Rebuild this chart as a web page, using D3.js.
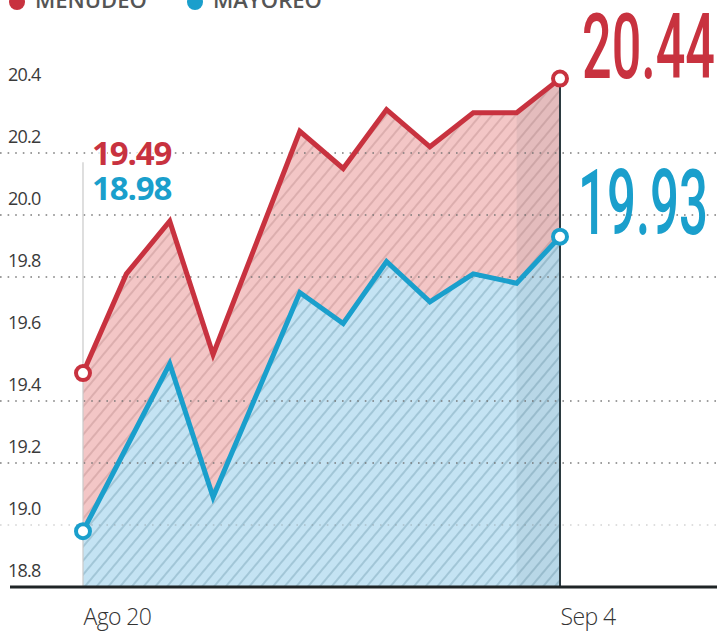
<!DOCTYPE html>
<html>
<head>
<meta charset="utf-8">
<script src="https://cdn.jsdelivr.net/npm/d3@7"></script>
<style>
  html, body { margin: 0; padding: 0; background: #fff; }
  svg { display: block; }
</style>
</head>
<body>
<svg id="chart" width="717" height="634"></svg>
<script>
// ---- data ----
const days = ["Ago 20","Ago 21","Ago 24","Ago 25","Ago 26","Ago 27","Ago 28","Ago 31","Sep 1","Sep 2","Sep 3","Sep 4"];
const menudeo = [19.49, 19.81, 19.98, 19.55, null, 20.27, 20.15, 20.34, 20.22, 20.33, 20.33, 20.44];
const mayoreo = [18.98, 19.25, 19.52, 19.09, null, 19.75, 19.65, 19.85, 19.72, 19.81, 19.78, 19.93];
const yTicks = [18.8, 19.0, 19.2, 19.4, 19.6, 19.8, 20.0, 20.2, 20.4];
const gridValues = [19.0, 19.2, 19.4, 19.8, 20.0, 20.2];
const xTickLabels = ["Ago 20", "Sep 4"];
const seriesNames = ["MENUDEO", "MAYOREO"];

const RED = "#c8323f", BLUE = "#1a9fcc";
const W = 717, H = 634;
const svg = d3.select("#chart");

const x = d3.scalePoint().domain(days).range([83, 560]);
const y = d3.scaleLinear().domain([18.8, 20.4]).range([587, 91]);

const redData = days.map((d, i) => ({d, v: menudeo[i]})).filter(p => p.v != null);
const blueData = days.map((d, i) => ({d, v: mayoreo[i]})).filter(p => p.v != null);

// ---- defs: hatch patterns ----
const defs = svg.append("defs");
function hatch(id, bg, lineColor) {
  const p = defs.append("pattern").attr("id", id)
    .attr("patternUnits", "userSpaceOnUse")
    .attr("width", 9).attr("height", 9)
    .attr("patternTransform", "rotate(40)");
  p.append("rect").attr("width", 9).attr("height", 9).attr("fill", bg);
  p.append("line").attr("x1", 1).attr("x2", 1).attr("y1", 0).attr("y2", 9)
    .attr("stroke", lineColor).attr("stroke-width", 1.1);
}
hatch("hRed", "#f3c6c6", "#c99a9a");
hatch("hBlue", "#c4e3f3", "#86aec0");

const area = d3.area().x(p => x(p.d)).y0(y(18.8)).y1(p => y(p.v));
const line = d3.line().x(p => x(p.d)).y(p => y(p.v));

defs.append("clipPath").attr("id", "redClip").append("path").attr("d", area(redData));

// ---- areas ----
svg.append("path").attr("d", area(redData)).attr("fill", "url(#hRed)");
svg.append("path").attr("d", area(blueData)).attr("fill", "url(#hBlue)");
// darker band on the last segment
svg.append("rect")
  .attr("x", x(days[10])).attr("y", 0)
  .attr("width", x(days[11]) - x(days[10])).attr("height", y(18.8))
  .attr("fill", "#2d4a5e").attr("opacity", 0.08)
  .attr("clip-path", "url(#redClip)");

// ---- gridlines ----
svg.append("g").selectAll("line").data(gridValues).join("line")
  .attr("x1", 0).attr("x2", W)
  .attr("y1", d => y(d)).attr("y2", d => y(d))
  .attr("stroke", "#6f6f6f")
  .attr("stroke-opacity", d => d === 19.0 ? 0.3 : 0.9)
  .attr("stroke-width", 1.6)
  .attr("stroke-dasharray", "1.6,6");

// vertical guides
svg.append("line").attr("x1", x(days[0])).attr("x2", x(days[0]))
  .attr("y1", y(20.17)).attr("y2", y(18.8))
  .attr("stroke", "#c9c9c9").attr("stroke-width", 1.2);
svg.append("line").attr("x1", x(days[11])).attr("x2", x(days[11]))
  .attr("y1", y(menudeo[11])).attr("y2", y(18.8))
  .attr("stroke", "#2b3a40").attr("stroke-width", 2);

// ---- y axis labels ----
const yAxis = d3.axisRight(y).tickValues(yTicks).tickSize(0).tickPadding(0)
  .tickFormat(d3.format(".1f"));
const ya = svg.append("g").attr("transform", "translate(8,0)").call(yAxis);
ya.select(".domain").remove();
ya.selectAll("text")
  .attr("dy", -11)
  .attr("font-family", "'Open Sans', sans-serif")
  .attr("font-size", 18)
  .attr("letter-spacing", -0.8)
  .attr("fill", "#3a3a3a");

// ---- x axis ----
const xAxis = d3.axisBottom(x).tickValues(xTickLabels).tickSize(0).tickPadding(0);
const xa = svg.append("g").attr("transform", `translate(0,${y(18.8)})`).call(xAxis);
xa.select(".domain").remove();
xa.selectAll("text")
  .attr("text-anchor", "start")
  .attr("y", 38).attr("dy", 0)
  .attr("font-family", "'Open Sans', sans-serif")
  .attr("font-size", 23)
  .attr("font-weight", 300)
  .attr("letter-spacing", -0.6)
  .attr("fill", "#333");
svg.append("line").attr("x1", 10).attr("x2", W)
  .attr("y1", y(18.8)).attr("y2", y(18.8))
  .attr("stroke", "#1f2526").attr("stroke-width", 3);

// ---- lines ----
svg.append("path").attr("d", line(redData)).attr("fill", "none")
  .attr("stroke", RED).attr("stroke-width", 5).attr("stroke-linejoin", "miter");
svg.append("path").attr("d", line(blueData)).attr("fill", "none")
  .attr("stroke", BLUE).attr("stroke-width", 5).attr("stroke-linejoin", "miter");

// end markers
[[redData, RED], [blueData, BLUE]].forEach(([data, c]) => {
  [data[0], data[data.length - 1]].forEach(p => {
    svg.append("circle").attr("cx", x(p.d)).attr("cy", y(p.v)).attr("r", 7)
      .attr("fill", "#fff").attr("stroke", c).attr("stroke-width", 4);
  });
});

// ---- value labels ----
function smallLabel(v, c, yy) {
  svg.append("text").attr("x", 92).attr("y", yy).text(v.toFixed(2))
    .attr("font-family", "'Open Sans', sans-serif").attr("font-weight", 700)
    .attr("font-size", 33).attr("letter-spacing", -1.1).attr("fill", c)
    .attr("stroke", "#fff").attr("stroke-width", 3).attr("paint-order", "stroke");
}
smallLabel(menudeo[0], RED, 165);
smallLabel(mayoreo[0], BLUE, 200);

function bigLabel(v, c, xx, yy, len) {
  svg.append("text").attr("x", xx).attr("y", yy).text(v.toFixed(2))
    .attr("font-family", "Roboto, sans-serif").attr("font-weight", 500)
    .attr("font-size", 90).attr("fill", c)
    .attr("textLength", len).attr("lengthAdjust", "spacingAndGlyphs");
}
bigLabel(menudeo[11], RED, 582, y(menudeo[11]) - 1, 133);
bigLabel(mayoreo[11], BLUE, 578, y(mayoreo[11]) - 3, 130);

// ---- legend (cut at top) ----
const legend = svg.append("g");
[[17, 0], [195, 1]].forEach(([lx, i]) => {
  legend.append("circle").attr("cx", lx).attr("cy", 2).attr("r", 8)
    .attr("fill", i === 0 ? RED : BLUE);
  legend.append("text").attr("x", lx + 18).attr("y", 8).text(seriesNames[i])
    .attr("font-family", "'Open Sans', sans-serif").attr("font-weight", 600)
    .attr("font-size", 22).attr("fill", "#555");
});
</script>
</body>
</html>
